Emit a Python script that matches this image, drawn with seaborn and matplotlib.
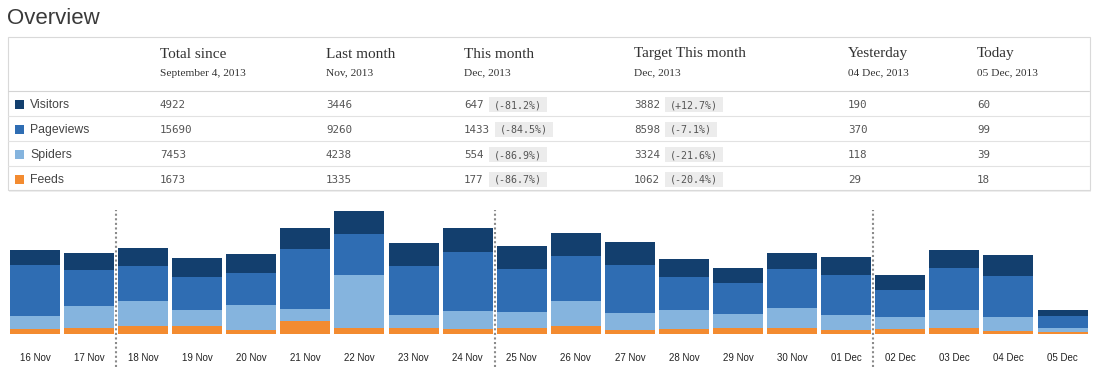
import numpy as np
import pandas as pd
import matplotlib
matplotlib.use("Agg")
import matplotlib.pyplot as plt
import seaborn as sns
from matplotlib.patches import Rectangle

sns.set_style("white")

# --- dados da tabela ---
series = ["Visitors", "Pageviews", "Spiders", "Feeds"]
colors = ["#133f6e", "#2f6db3", "#85b4de", "#f38b30"]
columns = ["Total since", "Last month", "This month", "Target This month", "Yesterday", "Today"]
subtitles = ["September 4, 2013", "Nov, 2013", "Dec, 2013", "Dec, 2013", "04 Dec, 2013", "05 Dec, 2013"]
total_since = [4922, 15690, 7453, 1673]
last_month = [3446, 9260, 4238, 1335]
this_month = [647, 1433, 554, 177]
this_month_pct = ["-81.2%", "-84.5%", "-86.9%", "-86.7%"]
target_month = [3882, 8598, 3324, 1062]
target_pct = ["+12.7%", "-7.1%", "-21.6%", "-20.4%"]
yesterday = [190, 370, 118, 29]
today = [60, 99, 39, 18]

# --- dados diarios (grafico de barras empilhadas) ---
days = ["16 Nov", "17 Nov", "18 Nov", "19 Nov", "20 Nov", "21 Nov", "22 Nov", "23 Nov",
        "24 Nov", "25 Nov", "26 Nov", "27 Nov", "28 Nov", "29 Nov", "30 Nov", "01 Dec",
        "02 Dec", "03 Dec", "04 Dec", "05 Dec"]
visitors = [134, 151, 160, 169, 169, 187, 205, 205, 214, 205, 205, 205, 160, 134, 142, 160, 134, 160, 190, 60]
pageviews = [454, 320, 312, 294, 285, 534, 365, 436, 525, 383, 400, 427, 294, 276, 347, 356, 240, 374, 370, 99]
spiders = [122, 202, 229, 148, 222, 107, 475, 119, 160, 145, 229, 151, 169, 125, 178, 134, 107, 160, 118, 39]
feeds = [41, 50, 68, 68, 38, 118, 53, 53, 47, 53, 68, 38, 47, 56, 56, 38, 47, 56, 29, 18]
week_breaks = ["18 Nov", "25 Nov", "02 Dec"]

W, H = 1104, 380
fig = plt.figure(figsize=(W / 100, H / 100), dpi=100)

# eixo de sobreposicao em pixels para a tabela
tab = fig.add_axes([0, 0, 1, 1])
tab.axis("off")

tab.text(7, 24.5, "Overview", fontsize=16, family="Liberation Sans", color="#3a3a3a", va="baseline")

# caixa da tabela
tab.add_patch(Rectangle((8.5, 37.5), 1082, 154, facecolor="#efefef", edgecolor="none"))
tab.add_patch(Rectangle((7.5, 36.5), 1082, 153.5, facecolor="white", edgecolor="#d9d9d9", lw=0.8))
grad = np.concatenate([np.linspace(0.99, 0.95, 40), np.full(13, 0.922)])[:, None]
tab.imshow(grad, cmap="gray", vmin=0, vmax=1, extent=[8, 1089, 90, 37], aspect="auto",
           interpolation="bilinear")
tab.set_xlim(0, W)
tab.set_ylim(H, 0)
tab.plot([8, 1089], [90.5, 90.5], color="#d4d4d4", lw=0.8)
for k in range(1, 4):
    tab.plot([8, 1089], [90.5 + 25 * k, 90.5 + 25 * k], color="#e2e2e2", lw=0.8)

col_x = [160, 326, 464, 634, 848, 977]
for x, name, sub in zip(col_x, columns, subtitles):
    tab.text(x, 57.5, name, fontsize=11, family="Liberation Serif", color="#333333", va="baseline")
    tab.text(x, 75.5, sub, fontsize=8.2, family="Liberation Serif", color="#333333", va="baseline")

cw_val = 6.52
cw_pct = 6.0
mono = "DejaVu Sans Mono"
for i, name in enumerate(series):
    base = 108 + 25 * i
    tab.add_patch(Rectangle((15, base - 8.5), 9, 9, facecolor=colors[i], edgecolor="none"))
    tab.text(30, base, name, fontsize=8.8, family="Liberation Sans", color="#444444", va="baseline")
    values = [total_since[i], last_month[i], this_month[i], target_month[i], yesterday[i], today[i]]
    for j, (x, v) in enumerate(zip(col_x, values)):
        s = str(v)
        tab.text(x, base, s, fontsize=7.8, family=mono, color="#555555", va="baseline")
        pct = None
        if j == 2:
            pct = this_month_pct[i]
        elif j == 3:
            pct = target_pct[i]
        if pct is not None:
            p = "(" + pct + ")"
            bx = x + len(s) * cw_val + 5
            tab.add_patch(Rectangle((bx, base - 11), len(p) * cw_pct + 10, 15,
                                    facecolor="#ececec", edgecolor="none"))
            tab.text(bx + 5, base, p, fontsize=7.2, family=mono, color="#555555", va="baseline")

# --- grafico de barras empilhadas ---
df = pd.DataFrame({"day": days, "Visitors": visitors, "Pageviews": pageviews,
                   "Spiders": spiders, "Feeds": feeds})
df["l4"] = df["Visitors"] + df["Pageviews"] + df["Spiders"] + df["Feeds"]
df["l3"] = df["Pageviews"] + df["Spiders"] + df["Feeds"]
df["l2"] = df["Spiders"] + df["Feeds"]
df["l1"] = df["Feeds"]

ax = fig.add_axes([7.96 / W, 46 / H, 1081.6 / W, 129 / H])
for col, c in zip(["l4", "l3", "l2", "l1"], colors):
    sns.barplot(data=df, x="day", y=col, order=days, color=c, saturation=1, width=0.925,
                linewidth=0, errorbar=None, ax=ax)

ax.set_xlim(-0.5, len(days) - 0.5)
ax.set_ylim(0, 129 * 8.9)
ax.set_xlabel("")
ax.set_ylabel("")
ax.set_yticks([])
sns.despine(ax=ax, left=True, bottom=True)
ax.tick_params(axis="x", length=0, pad=14, labelsize=7, labelcolor="#222222")
for lbl in ax.get_xticklabels():
    lbl.set_family("Liberation Sans")

for d in week_breaks:
    xb = days.index(d) - 0.5
    ax.axvline(xb, ymin=-0.256, ymax=0.961, color="#8a8a8a", lw=1.5,
               linestyle=(0, (1, 1.2)), clip_on=False)

fig.savefig("out.png", dpi=100)
